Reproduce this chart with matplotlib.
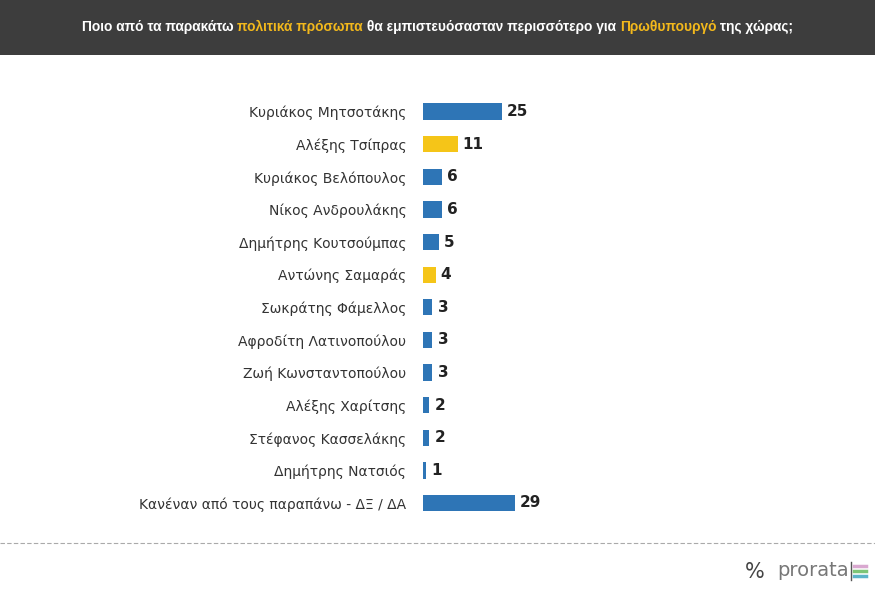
import matplotlib

matplotlib.use("Agg")
import matplotlib.pyplot as plt

names = [
    "Κυριάκος Μητσοτάκης",
    "Αλέξης Τσίπρας",
    "Κυριάκος Βελόπουλος",
    "Νίκος Ανδρουλάκης",
    "Δημήτρης Κουτσούμπας",
    "Αντώνης Σαμαράς",
    "Σωκράτης Φάμελλος",
    "Αφροδίτη Λατινοπούλου",
    "Ζωή Κωνσταντοπούλου",
    "Αλέξης Χαρίτσης",
    "Στέφανος Κασσελάκης",
    "Δημήτρης Νατσιός",
    "Κανέναν από τους παραπάνω - ΔΞ / ΔΑ",
]
values = [25, 11, 6, 6, 5, 4, 3, 3, 3, 2, 2, 1, 29]
highlight = [False, True, False, False, False, True, False, False, False, False, False, False, False]

BLUE = "#2e75b6"
YELLOW = "#f5c518"

fig = plt.figure(figsize=(8.75, 5.9), dpi=100)
fig.patch.set_facecolor("white")

# header band
fig.patches.append(plt.Rectangle((0, 1 - 55 / 590), 1, 55 / 590, transform=fig.transFigure,
                                 facecolor="#3d3d3d", edgecolor="none"))
parts = [
    ("Ποιο από τα παρακάτω ", "white"),
    ("πολιτικά πρόσωπα", "#f2b81c"),
    (" θα εμπιστευόσασταν περισσότερο για ", "white"),
    ("Πρωθυπουργό", "#f2b81c"),
    (" της χώρας;", "white"),
]
renderer = fig.canvas.get_renderer()
texts = []
for s, c in parts:
    t = fig.text(0, 1 - 27 / 590, s, color=c, fontsize=10.5, fontweight="bold",
                 va="center", ha="left", family="Liberation Sans")
    texts.append(t)
total = sum(t.get_window_extent(renderer).width for t in texts)
scale = 719 / total
for t in texts:
    t.set_fontsize(10.5 * scale)
widths = [t.get_window_extent(renderer).width / fig.bbox.width for t in texts]
x = 0.5 - sum(widths) / 2
for t, w in zip(texts, widths):
    t.set_x(x)
    x += w

ax = fig.add_axes([423 / 875, 70.7 / 590, 379 / 875, 424 / 590])
ypos = list(range(len(names)))
colors = [YELLOW if h else BLUE for h in highlight]
ax.barh(ypos, values, height=0.5, color=colors)
for y, v in zip(ypos, values):
    ax.text(v + 1.6, y, str(v), va="center", ha="left", fontsize=11,
            fontweight="bold", color="#222222")
ax.set_xlim(0, 120)
ax.set_ylim(len(names) - 0.5, -0.5)
ax.set_yticks(ypos)
ax.set_yticklabels(names, fontsize=10, color="#333333")
ax.tick_params(axis="y", length=0, pad=12)
ax.set_xticks([])
for sp in ax.spines.values():
    sp.set_visible(False)

# dashed separator
fig.add_artist(plt.Line2D([0, 1], [1 - 543 / 590] * 2, transform=fig.transFigure,
                          color="#aaaaaa", linestyle=(0, (4, 2)), linewidth=0.8))
# logo
fig.text(0.862, 1 - 572 / 590, "%", fontsize=15, color="#444444", ha="center", va="center")
fig.text(0.888, 1 - 571 / 590, "prorata", fontsize=14, color="#777777", ha="left", va="center")
fig.add_artist(plt.Line2D([0.972, 0.972], [1 - 580 / 590, 1 - 562 / 590], transform=fig.transFigure,
                          color="#555555", linewidth=1))
for i, c in enumerate(["#d9a8d0", "#7cc576", "#5bb4c8"]):
    yy = 1 - (566 + i * 5) / 590
    fig.add_artist(plt.Line2D([0.976, 0.99], [yy, yy], transform=fig.transFigure,
                              color=c, linewidth=2.5))

fig.savefig("out.png", dpi=100)
